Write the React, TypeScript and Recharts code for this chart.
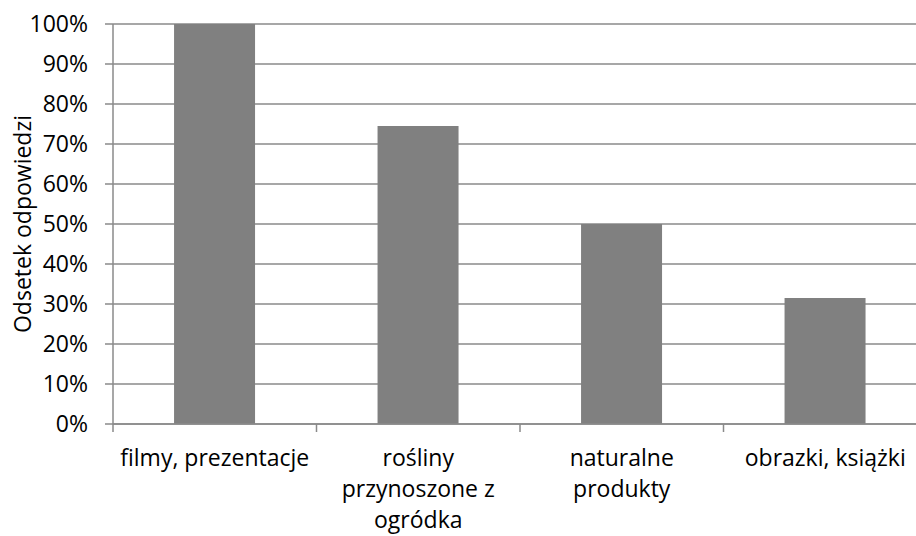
import React from 'react';
import { BarChart, Bar, XAxis, YAxis, CartesianGrid } from 'recharts';

const categories = ['filmy, prezentacje', 'rośliny\nprzynoszone z\nogródka', 'naturalne\nprodukty', 'obrazki, książki'];
const shares = [100, 74.5, 50, 31.5];
const yTicks = [0, 10, 20, 30, 40, 50, 60, 70, 80, 90, 100];

const data = categories.map((name, i) => ({ name, share: shares[i] }));

const FONT = '"Open Sans", "Noto Sans", sans-serif';
const FS = 23;
const AXIS = '#8a8a8a';

const CategoryTick = (props: any) => {
  const { x, y, payload, index } = props;
  const half = payload.offset || 0;
  const lines = String(payload.value).split('\n');
  return (
    <g>
      <line x1={x - half} x2={x - half} y1={y} y2={y + 8} stroke={AXIS} strokeWidth={1.5} />
      {index === categories.length - 1 && (
        <line x1={x + half} x2={x + half} y1={y} y2={y + 8} stroke={AXIS} strokeWidth={1.5} />
      )}
      <text x={x} y={y + 42} textAnchor="middle" fill="#000" fontFamily={FONT} fontSize={FS}>
        {lines.map((l, i) => (
          <tspan key={i} x={x} dy={i === 0 ? 0 : 31}>{l}</tspan>
        ))}
      </text>
    </g>
  );
};

export default function App() {
  return (
    <div style={{ position: 'absolute', left: 0, top: 0, width: 916, height: 536, overflow: 'hidden', background: '#fff' }}>
      <BarChart
        width={940}
        height={536}
        data={data}
        margin={{ top: 24, right: 13, left: 0, bottom: 0 }}
        barCategoryGap="30%"
      >
        <CartesianGrid vertical={false} stroke={AXIS} strokeWidth={1.5} />
        <XAxis
          dataKey="name"
          interval={0}
          tickSize={0}
          tickMargin={0}
          tickLine={false}
          axisLine={{ stroke: AXIS, strokeWidth: 1.5 }}
          tick={<CategoryTick />}
          height={112}
        />
        <YAxis
          width={113}
          domain={[0, 100]}
          ticks={yTicks}
          interval={0}
          tickFormatter={(v: number) => `${v}%`}
          tickSize={8}
          tickMargin={17}
          tickLine={{ stroke: AXIS, strokeWidth: 1.5 }}
          axisLine={{ stroke: AXIS, strokeWidth: 1.5 }}
          tick={{ fill: '#000', fontFamily: FONT, fontSize: FS }}
          label={{
            value: 'Odsetek odpowiedzi',
            angle: -90,
            position: 'insideLeft',
            offset: 23,
            style: { textAnchor: 'middle', fill: '#000', fontFamily: FONT, fontSize: FS },
          }}
        />
        <Bar dataKey="share" fill="#808080" isAnimationActive={false} />
      </BarChart>
    </div>
  );
}
